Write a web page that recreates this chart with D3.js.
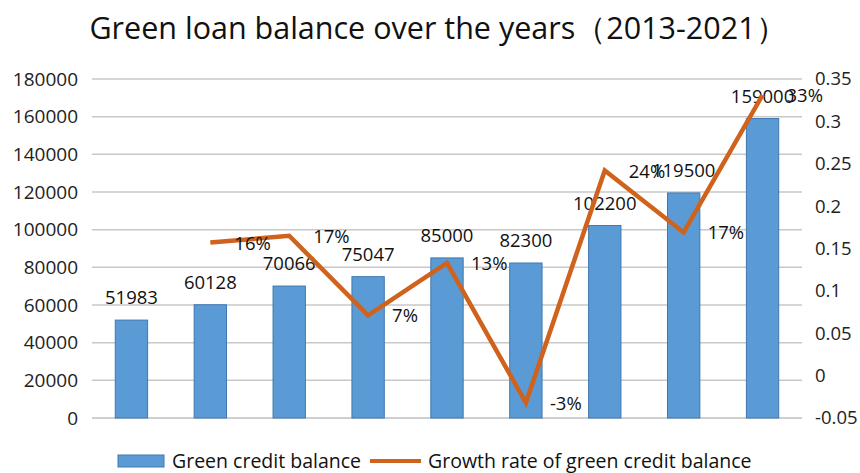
<!DOCTYPE html>
<html><head><meta charset="utf-8">
<script src="https://cdn.jsdelivr.net/npm/d3@7"></script>
<style>body{margin:0;background:#fff}svg{display:block}</style>
</head><body><svg id="c" width="860" height="473"></svg>
<script>
const years = ["2013","2014","2015","2016","2017","2018","2019","2020","2021"];
const balance = [51983, 60128, 70066, 75047, 85000, 82300, 102200, 119500, 159000];
const growthYears = ["2014","2015","2016","2017","2018","2019","2020","2021"];
const growth = [0.157, 0.165, 0.071, 0.133, -0.032, 0.242, 0.169, 0.331];
const growthLabels = ["16%","17%","7%","13%","-3%","24%","17%","33%"];
const leftTicks = [0,20000,40000,60000,80000,100000,120000,140000,160000,180000];
const rightTicks = [-0.05,0,0.05,0.1,0.15,0.2,0.25,0.3,0.35];
const title = "Green loan balance over the years（2013-2021）";
const legendLabels = ["Green credit balance","Growth rate of green credit balance"];

const svg = d3.select("#c");
const L = 92, R = 802, T = 79, B = 418;
const font = "'Open Sans', sans-serif";
const fs = 18.5;
const x = d3.scaleBand().domain(years).range([L, R]).paddingInner(0.59).paddingOuter(0.295);
const yL = d3.scaleLinear().domain([0,180000]).range([B, T]);
const yR = d3.scaleLinear().domain([-0.05,0.35]).range([B, T]);
const barCol = "#5B9BD5", lineCol = "#CF621C";

// gridlines
svg.append("g").selectAll("line").data(leftTicks).join("line")
  .attr("x1", L).attr("x2", R).attr("y1", d=>yL(d)).attr("y2", d=>yL(d))
  .attr("stroke", d=> d===0 ? "#bfbfbf" : "#c8c8c8").attr("stroke-width", 1.5);

// left axis
const gl = svg.append("g").attr("transform", `translate(${L-14},0)`)
  .call(d3.axisLeft(yL).tickValues(leftTicks).tickSize(0).tickPadding(0).tickFormat(d3.format("d")));
gl.select(".domain").remove();
gl.selectAll("text").attr("font-family", font).attr("font-size", 19).attr("fill", "#222");

// right axis
const gr = svg.append("g").attr("transform", `translate(${R+13},0)`)
  .call(d3.axisRight(yR).tickValues(rightTicks).tickSize(0).tickPadding(0).tickFormat(d=>String(+d.toFixed(2))));
gr.select(".domain").remove();
gr.selectAll("text").attr("font-family", font).attr("font-size", fs).attr("fill", "#222");

// bars
svg.append("g").selectAll("rect").data(balance).join("rect")
  .attr("x", (d,i)=>x(years[i])).attr("width", x.bandwidth())
  .attr("y", d=>yL(d)).attr("height", d=>B - yL(d))
  .attr("fill", barCol).attr("stroke", "#3f78b0").attr("stroke-width", 1);

// bar labels
svg.append("g").selectAll("text").data(balance).join("text")
  .attr("x", (d,i)=>x(years[i]) + x.bandwidth()/2).attr("y", d=>yL(d) - 16)
  .attr("text-anchor", "middle").attr("font-family", font).attr("font-size", fs).attr("fill", "#111")
  .text(d=>d);

// line
const cx = yr => x(yr) + x.bandwidth()/2;
const line = d3.line().x((d,i)=>cx(growthYears[i])).y(d=>yR(d));
svg.append("path").datum(growth).attr("d", line).attr("fill","none")
  .attr("stroke", lineCol).attr("stroke-width", 4.5).attr("stroke-linejoin","miter");

// line labels
svg.append("g").selectAll("text").data(growth).join("text")
  .attr("x", (d,i)=>cx(growthYears[i]) + 24).attr("y", d=>yR(d) + 7)
  .attr("font-family", font).attr("font-size", fs).attr("fill", "#111")
  .text((d,i)=>growthLabels[i]);

// title
svg.append("text").attr("x", 438).attr("y", 39).attr("text-anchor","middle")
  .attr("font-family", font).attr("font-size", 30.5).attr("fill","#111").text(title);

// legend
const lg = svg.append("g");
lg.append("rect").attr("x",118).attr("y",455).attr("width",46).attr("height",12)
  .attr("fill", barCol).attr("stroke","#3f78b0");
lg.append("text").attr("x",172).attr("y",468).attr("font-family",font).attr("font-size",19.5).attr("fill","#111").text(legendLabels[0]);
lg.append("line").attr("x1",370).attr("x2",421).attr("y1",461).attr("y2",461).attr("stroke",lineCol).attr("stroke-width",4);
lg.append("text").attr("x",428).attr("y",468).attr("font-family",font).attr("font-size",19.5).attr("fill","#111").text(legendLabels[1]);
</script></body></html>
